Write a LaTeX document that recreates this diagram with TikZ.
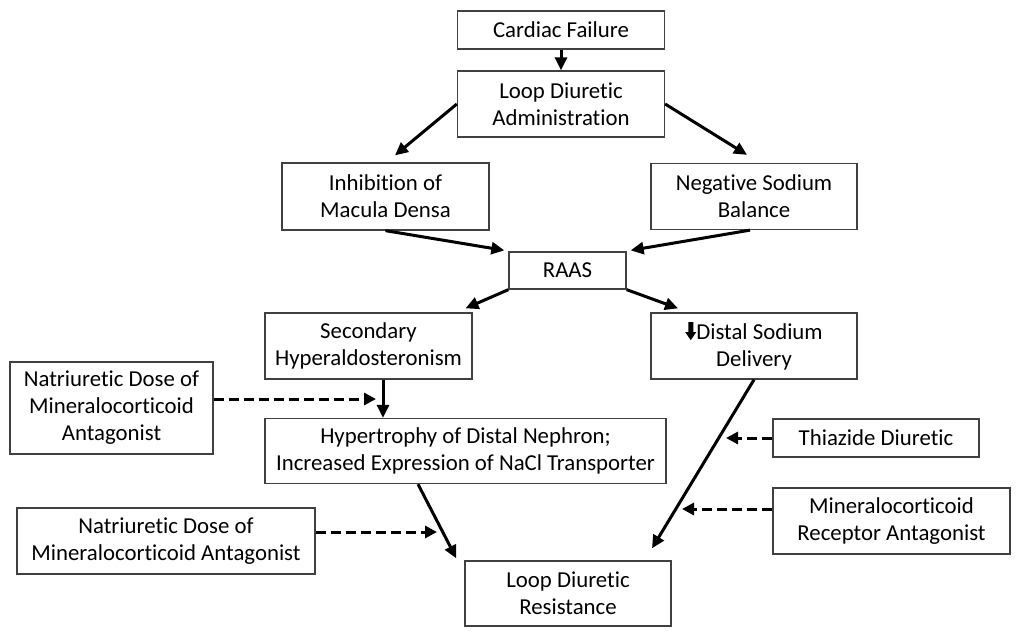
\documentclass[tikz,border=0pt]{standalone}
\usepackage{fontspec}
\setmainfont{Carlito}[RawFeature={-liga}]
\usetikzlibrary{arrows.meta}
\newcommand\darrowglyph{\tikz[x=1pt,y=1pt,baseline=0pt]\fill[black] (2.5,17)--(7.5,17)--(7.5,7)--(10.5,7)--(5,-1)--(-0.5,7)--(2.5,7)--cycle;}
\tikzset{
  box/.style={draw=black!75, line width=1.3pt, fill=white, align=center, inner sep=0pt,
    font=\fontsize{22.8}{27}\selectfont, text=black},
  arr/.style={line width=3pt, -{Triangle[length=13pt,width=12pt]}},
  darr/.style={line width=3pt, dash pattern=on 10pt off 5pt, -{Triangle[length=12pt,width=12pt]}}
}
\begin{document}
\begin{tikzpicture}[x=1pt,y=-1pt]
\useasboundingbox[fill=white] (0,0) rectangle (1024,640);
\node[box, minimum width=207pt, minimum height=38pt] (cf) at (561,30) {Cardiac Failure};
\node[box, minimum width=207pt, minimum height=66pt] (ld) at (561,104) {Loop Diuretic\\Administration};
\node[box, minimum width=207pt, minimum height=67pt] (imd) at (385.5,196.5) {Inhibition of\\Macula Densa};
\node[box, minimum width=206pt, minimum height=66pt] (nsb) at (754,196.5) {Negative Sodium\\Balance};
\node[box, minimum width=117pt, minimum height=37pt] (raas) at (567.5,270.5) {RAAS};
\node[box, minimum width=207pt, minimum height=66pt] (sh) at (368.5,346) {Secondary\\Hyperaldosteronism};
\node[box, minimum width=206pt, minimum height=66pt] (dsd) at (754,346) {\darrowglyph Distal Sodium\\Delivery};
\node[box, minimum width=203pt, minimum height=92pt] (nd1) at (111.5,408) {Natriuretic Dose of\\Mineralocorticoid\\Antagonist};
\node[box, minimum width=401pt, minimum height=65pt] (hyp) at (465.5,451) {Hypertrophy of Distal Nephron;\\Increased Expression of NaCl Transporter};
\node[box, minimum width=206pt, minimum height=38pt] (td) at (876,438) {Thiazide Diuretic};
\node[box, minimum width=298pt, minimum height=66pt] (nd2) at (166,541) {Natriuretic Dose of\\Mineralocorticoid Antagonist};
\node[box, minimum width=237pt, minimum height=66pt] (mra) at (891.5,521) {Mineralocorticoid\\Receptor Antagonist};
\node[box, minimum width=206pt, minimum height=65pt] (ldr) at (568,593.5) {Loop Diuretic\\Resistance};
\coordinate (c1) at (376,399);
\coordinate (c2) at (726,438);
\coordinate (c3) at (682,509);
\coordinate (c4) at (437,532);
\draw[arr] (cf.south) -- (ld.north);
\draw[arr] (ld.west) -- ([xshift=9.5pt,yshift=7pt]imd.north);
\draw[arr] (ld.east) -- ([xshift=-7pt,yshift=8pt]nsb.north);
\draw[arr] (imd.south) -- ([xshift=-4pt,yshift=1pt]raas.north west);
\draw[arr] ([xshift=-4pt]nsb.south) -- ([xshift=4pt,yshift=1pt]raas.north east);
\draw[arr] (raas.south west) -- ([xshift=97pt,yshift=4pt]sh.north);
\draw[arr] (raas.south east) -- ([xshift=-76pt,yshift=4pt]dsd.north);
\draw[arr] ([xshift=14.5pt]sh.south) -- ([xshift=14.5pt]sh.south |- hyp.north);
\draw[darr] ([yshift=9pt]nd1.east) -- (c1);
\draw[arr] ([xshift=-47.5pt]hyp.south) -- ([xshift=-8pt,yshift=2pt]ldr.north west);
\draw[arr] (dsd.south) -- ([xshift=84pt,yshift=12pt]ldr.north);
\draw[darr] (td.west) -- (c2);
\draw[darr] ([yshift=12pt]mra.west) -- (c3);
\draw[darr] ([yshift=9pt]nd2.east) -- (c4);
\end{tikzpicture}
\end{document}
